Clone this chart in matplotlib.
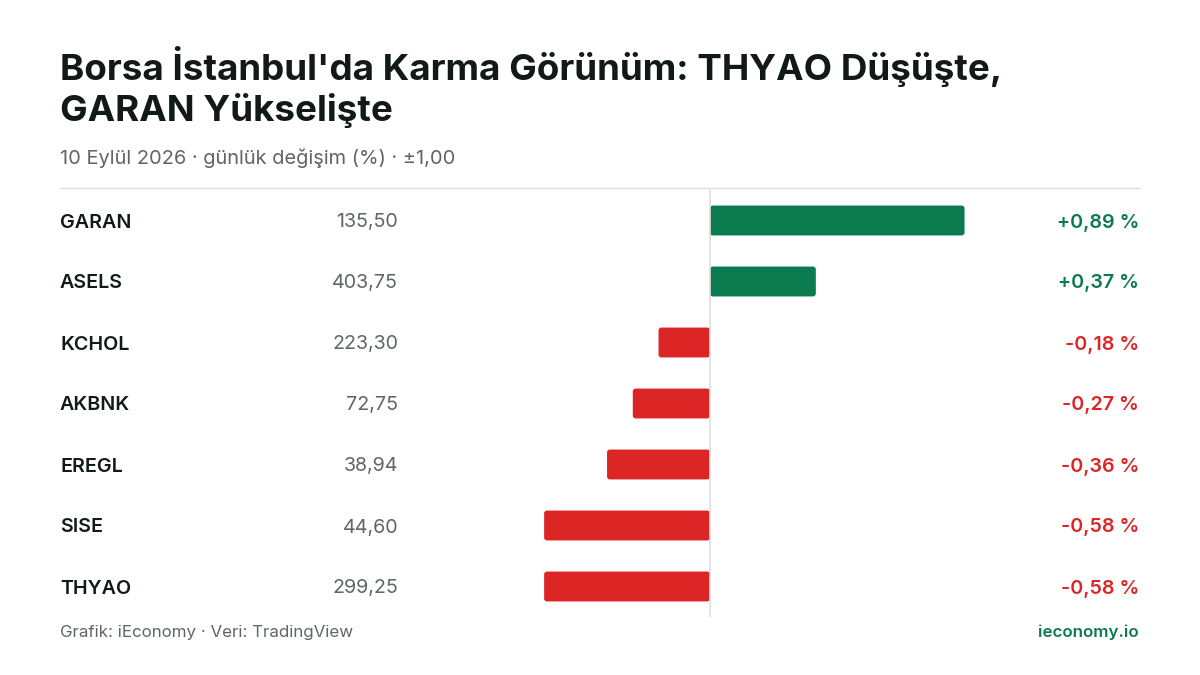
import matplotlib
matplotlib.use("Agg")
import matplotlib.pyplot as plt
from matplotlib.patches import FancyBboxPatch

tickers = ["GARAN", "ASELS", "KCHOL", "AKBNK", "EREGL", "SISE", "THYAO"]
prices = ["135,50", "403,75", "223,30", "72,75", "38,94", "44,60", "299,25"]
changes = [0.89, 0.37, -0.18, -0.27, -0.36, -0.58, -0.58]
change_labels = ["+0,89 %", "+0,37 %", "-0,18 %", "-0,27 %", "-0,36 %", "-0,58 %", "-0,58 %"]

GREEN = "#0b7a4f"; RED = "#dc2626"; DARK = "#111a17"; GRAY = "#5f6664"
plt.rcParams['font.family'] = ['Inter', 'DejaVu Sans']

W, H = 1200, 675
fig = plt.figure(figsize=(12, 6.75), dpi=100)
fx = lambda p: p / W
fy = lambda p: 1 - p / H

fig.text(fx(60), fy(87), "Borsa İstanbul'da Karma Görünüm: THYAO Düşüşte,\nGARAN Yükselişte",
         fontsize=26.5, fontweight='bold', color=DARK, va='center', ha='left', linespacing=1.2)
fig.text(fx(60), fy(158), "10 Eylül 2026 · günlük değişim (%) · ±1,00", fontsize=14.4, color=GRAY, va='center')
fig.add_artist(plt.Line2D([fx(60), fx(1140)], [fy(188), fy(188)], color="#dddddd", lw=1))

ax = fig.add_axes([fx(424), fy(617), fx(996 - 424), (617 - 190) / H])
ax.set_xlim(-1, 1)
ax.set_ylim(6.5, -0.5)
ax.axis('off')
ax.axvline(0, color="#dddddd", lw=1.2)
n = len(tickers)
for i in range(n):
    v = changes[i]
    c = GREEN if v > 0 else RED
    x0 = min(0, v)
    p = FancyBboxPatch((x0, i - 0.245), abs(v), 0.49,
                       boxstyle="round,pad=0,rounding_size=0.01", mutation_aspect=4.7,
                       fc=c, ec='none')
    ax.add_patch(p)
    yp = fy(192 + 61 * (i + 0.5))
    fig.text(fx(60), yp, tickers[i], fontsize=14.2, fontweight='semibold', color=DARK, va='center')
    fig.text(fx(398), yp, prices[i], fontsize=14.2, color=GRAY, va='center', ha='right')
    fig.text(fx(1139), yp, change_labels[i], fontsize=14.2, fontweight='semibold', color=c, va='center', ha='right')

fig.text(fx(60), fy(632), "Grafik: iEconomy · Veri: TradingView", fontsize=12.2, color=GRAY, va='center')
fig.text(fx(1139), fy(632), "ieconomy.io", fontsize=12.2, fontweight='semibold', color=GREEN, va='center', ha='right')
fig.savefig("out.png", dpi=100, facecolor='white')
